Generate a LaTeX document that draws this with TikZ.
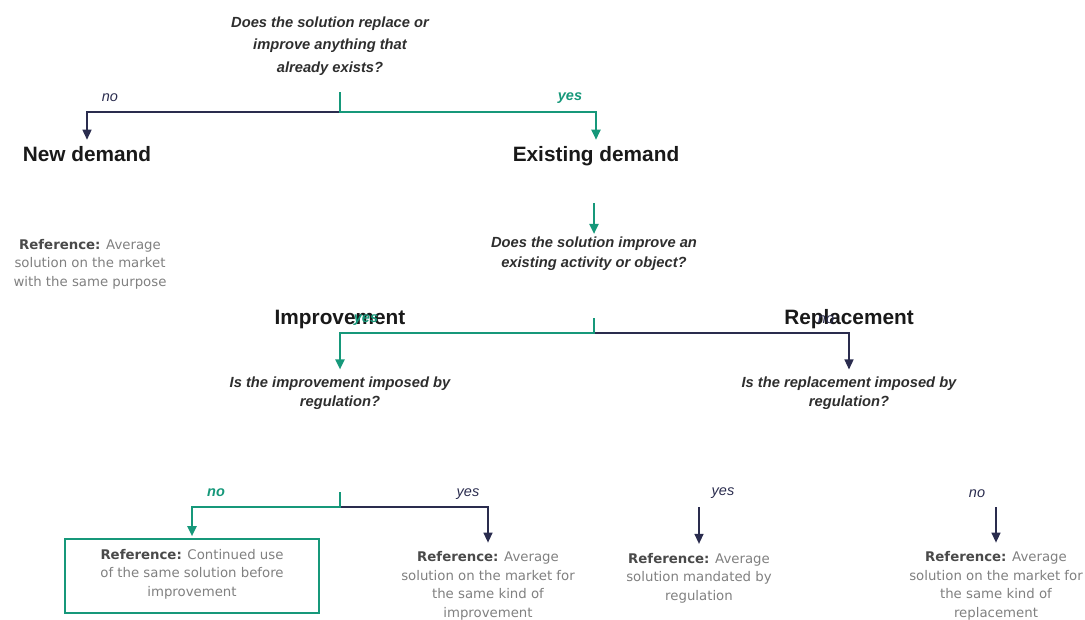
\documentclass[tikz,border=0pt]{standalone}
\usepackage{fontspec}
\setmainfont{Liberation Sans}
\newfontfamily\notefont{DejaVu Sans}
\usetikzlibrary{arrows.meta}
\definecolor{gr}{HTML}{16987A}
\definecolor{nv}{HTML}{2A2C4E}
\definecolor{ink}{HTML}{2E2E2E}
\definecolor{soft}{HTML}{808080}
\definecolor{refbold}{HTML}{4A4A4A}
\newcommand{\refword}{{\bfseries\color{refbold}Reference:}}
\begin{document}
\begin{tikzpicture}[x=1pt,y=-1pt,
  question/.style={font=\fontsize{14.7}{20}\selectfont\bfseries\itshape, text=ink, align=center, inner sep=0pt},
  heading/.style={font=\fontsize{20.8}{24}\selectfont\bfseries, text=black!90, inner sep=0pt, anchor=base},
  refnote/.style={font=\notefont\fontsize{13.3}{18.5}\selectfont, text=soft, align=center, inner sep=0pt},
  yeslbl/.style={font=\fontsize{14.5}{15}\selectfont\bfseries\itshape, text=gr, inner sep=0pt},
  nolbl/.style={font=\fontsize{14.5}{15}\selectfont\itshape, text=nv, inner sep=0pt},
  pathg/.style={draw=gr, line width=2.2pt},
  pathn/.style={draw=nv, line width=1.4pt},
  tipg/.style={-{Triangle[length=10pt,width=9pt]}},
  tipn/.style={-{Triangle[length=10pt,width=9pt]}}
]
\useasboundingbox (0,0) rectangle (1085,619);

% ---- questions ----
\node[question, font=\fontsize{14.7}{22.5}\selectfont\bfseries\itshape] (q1) at (330,46)
  {Does the solution replace or\\improve anything that\\already exists?};
\node[question] (q2) at (594,254) {Does the solution improve an\\existing activity or object?};
\node[question, font=\fontsize{14.7}{19}\selectfont\bfseries\itshape] (q3) at (340,393) {Is the improvement imposed by\\regulation?};
\node[question, font=\fontsize{14.7}{19}\selectfont\bfseries\itshape] (q4) at (849,393) {Is the replacement imposed by\\regulation?};

% ---- headings ----
\node[heading] (newd) at (87,161) {New demand};
\node[heading] (exist) at (596,161) {Existing demand};
\node[heading] (impr) at (340,324) {Improvement};
\node[heading] (repl) at (849,324) {Replacement};

% ---- reference notes ----
\node[refnote] (r0) at (90,264) {\refword{} Average\\solution on the market\\with the same purpose};
\node[draw=gr, line width=1.6pt, minimum width=254pt, minimum height=74pt, inner sep=0pt] (box) at (192,576) {};
\node[refnote] (r1) at ([yshift=2pt]box.center) {\refword{} Continued use\\of the same solution before\\improvement};
\node[refnote] (r2) at (488,586) {\refword{} Average\\solution on the market for\\the same kind of\\improvement};
\node[refnote] (r3) at (699,578) {\refword{} Average\\solution mandated by\\regulation};
\node[refnote] (r4) at (996,586) {\refword{} Average\\solution on the market for\\the same kind of\\replacement};

% ---- junction points ----
\coordinate (s1) at (340,92);   \coordinate (j1) at (340,112);
\coordinate (s2) at (594,318);  \coordinate (j2) at (594,333);
\coordinate (s3) at (340,492);  \coordinate (j3) at (340,507);
\coordinate (a2) at (594,203);
\coordinate (t4) at (699,507);
\coordinate (t5) at (996,507);

% ---- connectors: first split ----
\draw[pathn, tipn, shorten >=6pt] (j1) -| (newd.north);
\draw[pathg, tipg, shorten >=6pt] (s1) -- (j1) -| (exist.north);
\draw[pathg, tipg, shorten >=3pt] (a2) -- (q2.north);

% ---- connectors: second split ----
\draw[pathn, tipn, shorten >=7pt] (j2) -| (q4.north);
\draw[pathg, tipg, shorten >=7pt] (s2) -- (j2) -| (q3.north);

% ---- connectors: third split ----
\draw[pathn, tipn, shorten >=9pt] (j3) -| (r2.north);
\draw[pathg, tipg, shorten >=2pt] (s3) -- (j3) -| (box.north);
\draw[pathn, tipn, shorten >=9pt] (t4) -- (r3.north);
\draw[pathn, tipn, shorten >=9pt] (t5) -- (r4.north);

% ---- branch labels ----
\node[nolbl] (l1) at (110,98) {no};
\node[yeslbl] (l2) at (570,98) {yes};
\node[yeslbl] (l3) at (366,320) {yes};
\node[nolbl] (l4) at (826,320) {no};
\node[yeslbl] (l5) at (216,493) {no};
\node[nolbl] (l6) at (468,494) {yes};
\node[nolbl] (l7) at (723,493) {yes};
\node[nolbl] (l8) at (977,494) {no};
\end{tikzpicture}
\end{document}
